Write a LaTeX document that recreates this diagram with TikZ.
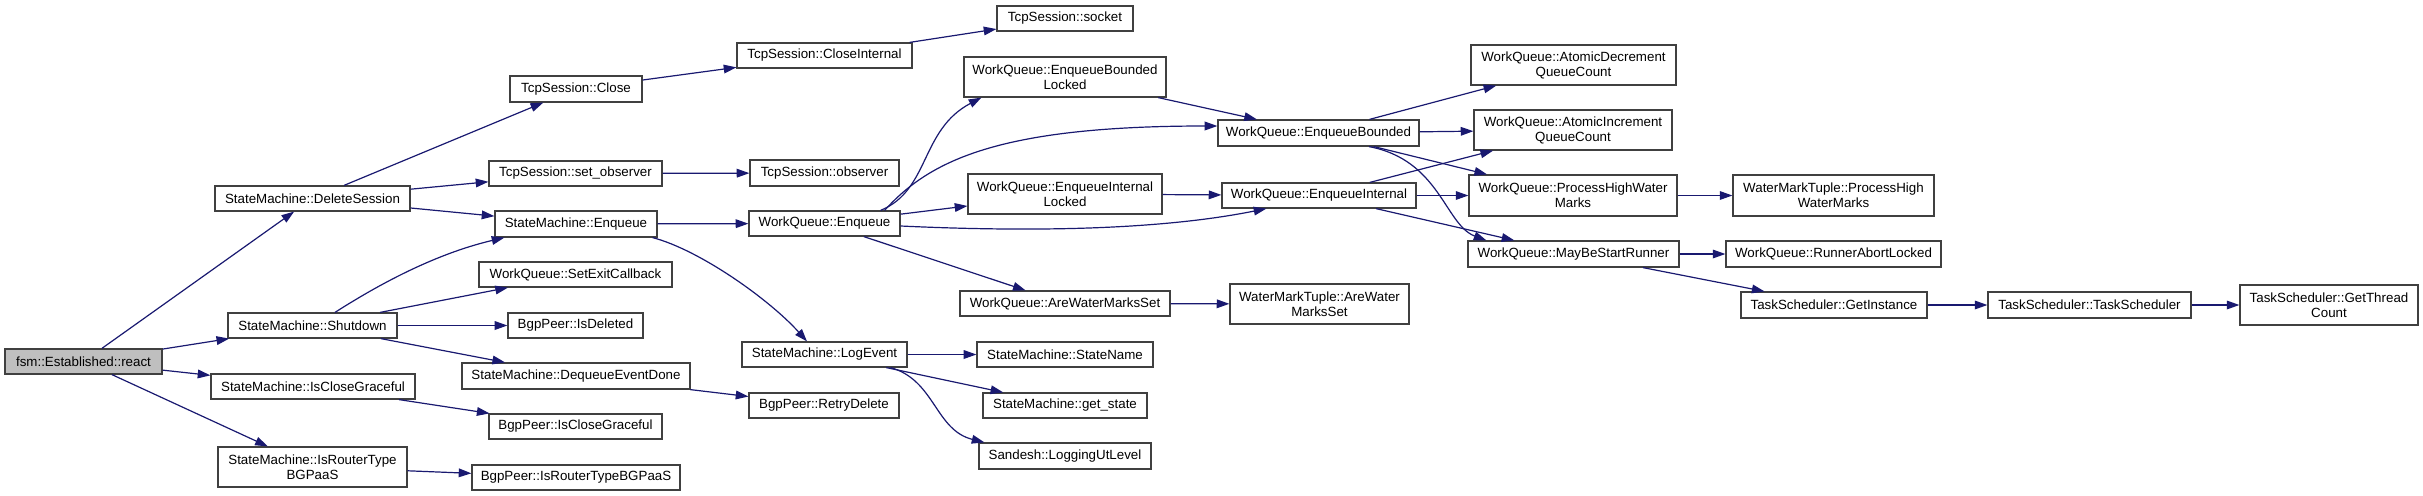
\documentclass[tikz,border=0pt]{standalone}
\usepackage{fontspec}
\setmainfont{Liberation Sans}
\usetikzlibrary{arrows.meta,calc}
\definecolor{edgeblue}{HTML}{191970}
\definecolor{boxline}{HTML}{404040}
\definecolor{rootfill}{HTML}{BFBFBF}
\tikzset{
  gbox/.style={draw=boxline, line width=0.9pt, fill=white, inner sep=0pt, align=center,
    font=\fontsize{10pt}{11.25pt}\selectfont, text=black},
  edge/.style={draw=edgeblue, line width=0.9pt, -{Triangle[length=9.5pt,width=6.5pt]}},
}
\newcommand\gnode[7]{\node[gbox,#7,minimum width={(#4-#2)*0.75pt},minimum height={(#5-#3)*0.75pt}] (#1) at ({(#2+#4)/2},{(#3+#5)/2}) {#6};}
\begin{document}
\begin{tikzpicture}[x=0.75pt,y=-0.75pt]
\useasboundingbox (0,0) rectangle (2423,496);
\gnode{fsm}{5}{349}{162}{374}{fsm::Established::react}{fill=rootfill}
\gnode{delsess}{215}{186}{410}{211}{StateMachine::DeleteSession}{}
\gnode{shutdown}{228}{313}{397}{338}{StateMachine::Shutdown}{}
\gnode{smclose}{211}{374}{415}{399}{StateMachine::IsCloseGraceful}{}
\gnode{smrouter}{218}{447}{407}{487}{StateMachine::IsRouterType\\BGPaaS}{}
\gnode{tcpclose}{510}{76}{642}{102}{TcpSession::Close}{}
\gnode{setobs}{489}{161}{662}{186}{TcpSession::set\_observer}{}
\gnode{smenq}{495}{211}{657}{237}{StateMachine::Enqueue}{}
\gnode{setexit}{479}{262}{672}{287}{WorkQueue::SetExitCallback}{}
\gnode{isdel}{508}{313}{643}{338}{BgpPeer::IsDeleted}{}
\gnode{deqdone}{462}{363}{690}{389}{StateMachine::DequeueEventDone}{}
\gnode{bgpclose}{489}{414}{662}{439}{BgpPeer::IsCloseGraceful}{}
\gnode{bgprouter}{472}{465}{680}{490}{BgpPeer::IsRouterTypeBGPaaS}{}
\gnode{closeint}{737}{43}{912}{68}{TcpSession::CloseInternal}{}
\gnode{observer}{750}{160}{899}{186}{TcpSession::observer}{}
\gnode{wqenq}{749}{211}{900}{236}{WorkQueue::Enqueue}{}
\gnode{logevent}{742}{342}{907}{367}{StateMachine::LogEvent}{}
\gnode{retry}{749}{393}{899}{418}{BgpPeer::RetryDelete}{}
\gnode{socket}{997}{6}{1133}{31}{TcpSession::socket}{}
\gnode{ebl}{964}{57}{1166}{97}{WorkQueue::EnqueueBounded\\Locked}{}
\gnode{eil}{968}{174}{1162}{214}{WorkQueue::EnqueueInternal\\Locked}{}
\gnode{awms}{960}{291}{1170}{316}{WorkQueue::AreWaterMarksSet}{}
\gnode{statename}{977}{342}{1153}{367}{StateMachine::StateName}{}
\gnode{getstate}{983}{393}{1147}{418}{StateMachine::get\_state}{}
\gnode{logut}{979}{443}{1151}{469}{Sandesh::LoggingUtLevel}{}
\gnode{eb}{1218}{120}{1419}{146}{WorkQueue::EnqueueBounded}{}
\gnode{ei}{1222}{183}{1416}{208}{WorkQueue::EnqueueInternal}{}
\gnode{wmtawms}{1230}{284}{1409}{324}{WaterMarkTuple::AreWater\\MarksSet}{}
\gnode{atdec}{1471}{45}{1676}{85}{WorkQueue::AtomicDecrement\\QueueCount}{}
\gnode{atinc}{1474}{110}{1672}{150}{WorkQueue::AtomicIncrement\\QueueCount}{}
\gnode{phwm}{1469}{175}{1677}{216}{WorkQueue::ProcessHighWater\\Marks}{}
\gnode{mbsr}{1468}{241}{1679}{267}{WorkQueue::MayBeStartRunner}{}
\gnode{wmtphwm}{1733}{175}{1934}{216}{WaterMarkTuple::ProcessHigh\\WaterMarks}{}
\gnode{runabort}{1726}{241}{1941}{267}{WorkQueue::RunnerAbortLocked}{}
\gnode{getinst}{1741}{292}{1927}{318}{TaskScheduler::GetInstance}{}
\gnode{tsched}{1988}{292}{2191}{318}{TaskScheduler::TaskScheduler}{}
\gnode{getthread}{2240}{285}{2418}{325}{TaskScheduler::GetThread\\Count}{}
% straight edges
\draw[edge] (fsm) -- (delsess);
\draw[edge] (fsm) -- (shutdown);
\draw[edge] (fsm) -- (smclose);
\draw[edge] (fsm) -- (smrouter);
\draw[edge] (delsess) -- (tcpclose);
\draw[edge] (delsess) -- (setobs);
\draw[edge] (delsess) -- (smenq);
\draw[edge] (shutdown) -- (setexit);
\draw[edge] (shutdown) -- (isdel);
\draw[edge] (shutdown) -- (deqdone);
\draw[edge] (smclose) -- (bgpclose);
\draw[edge] (smrouter) -- (bgprouter);
\draw[edge] (tcpclose) -- (closeint);
\draw[edge] (closeint) -- (socket);
\draw[edge] (setobs) -- (observer);
\draw[edge] (smenq) -- (wqenq);
\draw[edge] (deqdone) -- (retry);
\draw[edge] (wqenq) -- (eil);
\draw[edge] (wqenq) -- (awms);
\draw[edge] (ebl) -- (eb);
\draw[edge] (eil) -- (ei);
\draw[edge] (awms) -- (wmtawms);
\draw[edge] (logevent) -- (statename);
\draw[edge] (logevent) -- (getstate);
\draw[edge] (eb) -- (atdec);
\draw[edge] (eb) -- (atinc);
\draw[edge] (eb) -- (phwm);
\draw[edge] (ei) -- (atinc);
\draw[edge] (ei) -- (phwm);
\draw[edge] (ei) -- (mbsr);
\draw[edge] (phwm) -- (wmtphwm);
\draw[edge] (mbsr) -- (runabort);
\draw[edge] (mbsr) -- (getinst);
\draw[edge] (getinst) -- (tsched);
\draw[edge] (tsched) -- (getthread);
% curved edges
\draw[edge] ($(shutdown.north)+(22.5,0)$) .. controls (370,290) and (430,255) .. ($(smenq.south west)+(10,0)$);
\draw[edge] ($(smenq.south east)+(-5,0)$) .. controls (700,250) and (770,300) .. ($(logevent.north)+(-17.5,0)$);
\draw[edge] ($(wqenq.north east)+(-20,0)$) .. controls (930,190) and (920,130) .. ($(ebl.south west)+(18,0)$);
\draw[edge] ($(wqenq.north east)+(-16,0)$) .. controls (930,160) and (1000,126) .. ($(eb.west)+(0,-7)$);
\draw[edge] ($(wqenq.east)+(0,2.5)$) .. controls (1050,233) and (1170,228) .. ($(ei.south west)+(45,0)$);
\draw[edge] ($(logevent.south east)+(-17,0)$) .. controls (935,380) and (935,430) .. ($(logut.north west)+(6,0)$);
\draw[edge] ($(eb.south)+(50.5,0)$) .. controls (1440,160) and (1445,225) .. ($(mbsr.north west)+(19,0)$);
\end{tikzpicture}
\end{document}
